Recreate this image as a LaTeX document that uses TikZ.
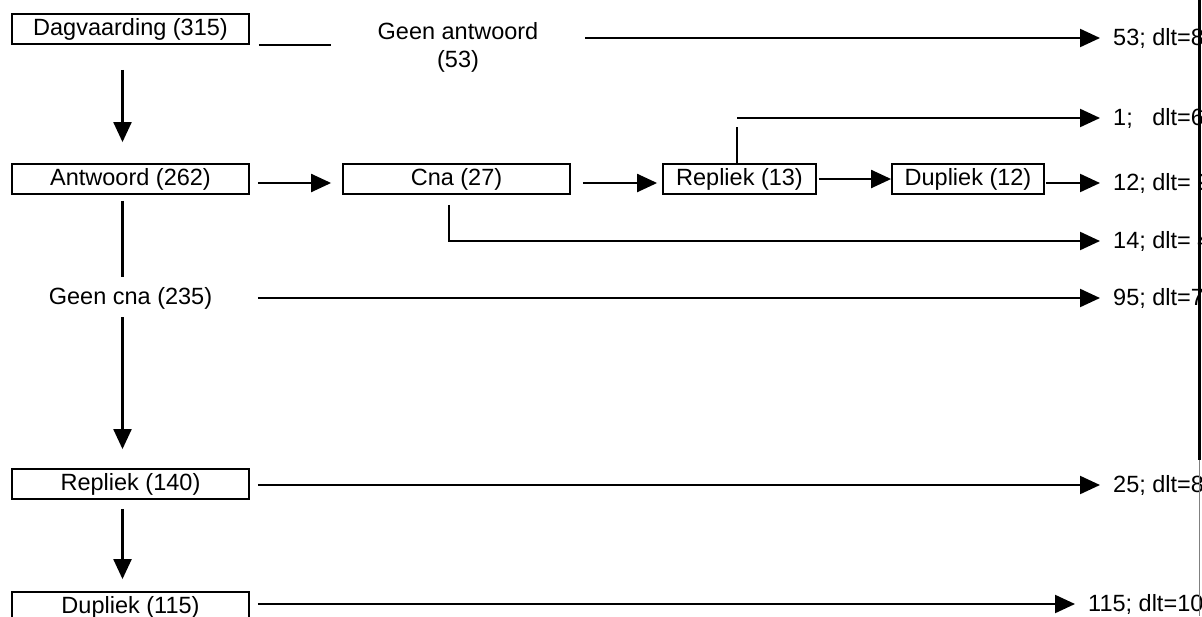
\documentclass[tikz,border=0pt]{standalone}
\usepackage{fontspec}
\setmainfont{Liberation Sans}
\usetikzlibrary{arrows.meta}

\begin{document}
\begin{tikzpicture}[
      x=1pt, y=-1pt,
      font=\fontsize{23.5}{28}\selectfont,
      box/.style={rectangle, draw, line width=1.8pt, inner sep=0pt,
                  minimum height=30pt},
      wide/.style={box, minimum width=237pt},
      small/.style={box, minimum width=153pt},
      txt/.style={inner sep=0pt, align=center},
      lbl/.style={anchor=west, inner sep=0pt},
      ln/.style={line width=2.2pt},
      arr/.style={-{Triangle[length=20pt,width=18pt]}, line width=2.2pt},
    ]
    \useasboundingbox (0,0) rectangle (1202,616);
    \clip (0,0) rectangle (1202,616);

    % left column
    \node[wide]  (dag)  at (130.5,29)  {Dagvaarding (315)};
    \node[wide]  (ant)  at (130.5,179) {Antwoord (262)};
    \node[txt]   (gc)   at (130.5,298) {Geen cna (235)};
    \node[wide]  (rep2) at (130.5,484) {Repliek (140)};
    \node[wide]  (dup2) at (130.5,607) {Dupliek (115)};

    % middle row
    \node[txt, inner xsep=46.5pt] (ga) at (458,47) {Geen antwoord\\(53)};
    \node[box, minimum width=227pt] (cna) at (456.5,179) {Cna (27)};
    \node[small] (rep)  at (739.5,179) {Repliek (13)};
    \node[box, minimum width=152pt] (dup) at (968,179) {Dupliek (12)};

    % outcomes
    \node[lbl] (o-ga) at (1113,38)  {53; dlt=8};
    \node[lbl] (o-r1) at (1113,118) {1;~~~dlt=6};
    \node[lbl] (o-d1) at (1113,183) {12; dlt= 9};
    \node[lbl] (o-c1) at (1113,241) {14; dlt= 4};
    \node[lbl] (o-gc) at (1113,298) {95; dlt=7};
    \node[lbl] (o-r2) at (1113,485) {25; dlt=8};
    \node[lbl] (o-d2) at (1088,604) {115; dlt=10};

    \draw[ln]  ([xshift=9pt]dag.south east) -- (ga.west |- dag.south east);
    \draw[arr] (ga.east |- o-ga.west) -- ([xshift=-13pt]o-ga.west);
    \draw[arr] ([xshift=-8pt,yshift=-25pt]dag.south) -- ([xshift=-8pt,yshift=21pt]ant.north);

    \draw[arr] ([xshift=8pt,yshift=-4pt]ant.east) -- ([xshift=-11pt,yshift=-4pt]cna.west);
    \draw[arr] ([xshift=12pt,yshift=-4pt]cna.east) -- ([xshift=-5pt,yshift=-4pt]rep.west);
    \draw[arr] ([xshift=2pt]rep.east) -- (dup.west);
    \draw[arr] ([xshift=1pt,yshift=-4pt]dup.east) -- ([xshift=-13pt]o-d1.west);
    \draw[ln]  ([xshift=-2.5pt]rep.north) -- ++(0,-36);
    \draw[arr] ([xshift=-2.5pt]rep.north |- o-r1.west) -- ([xshift=-13pt]o-r1.west);
    \draw[arr] ([xshift=-7.5pt,yshift=-10pt]cna.south) |- ([xshift=-13pt]o-c1.west);

    \draw[ln]  ([xshift=-8pt,yshift=-6pt]ant.south) -- ([xshift=-8pt,yshift=10pt]gc.north);
    \draw[arr] ([xshift=8pt]ant.east |- o-gc.west) -- ([xshift=-13pt]o-gc.west);
    \draw[arr] ([xshift=-8pt,yshift=-8pt]gc.south) -- ([xshift=-8pt,yshift=19pt]rep2.north);
    \draw[arr] ([xshift=8pt]rep2.east |- o-r2.west) -- ([xshift=-13pt]o-r2.west);
    \draw[arr] ([xshift=-8pt,yshift=-9pt]rep2.south) -- ([xshift=-8pt,yshift=12pt]dup2.north);
    \draw[arr] ([xshift=8pt]dup2.east |- o-d2.west) -- ([xshift=-13pt]o-d2.west);

    % page edge
    \draw[line width=3pt] (1199.5,0) -- (1199.5,460);
    \draw[gray, line width=0.6pt] (1199.5,460) -- (1199.5,616);
  \end{tikzpicture}
\end{document}
